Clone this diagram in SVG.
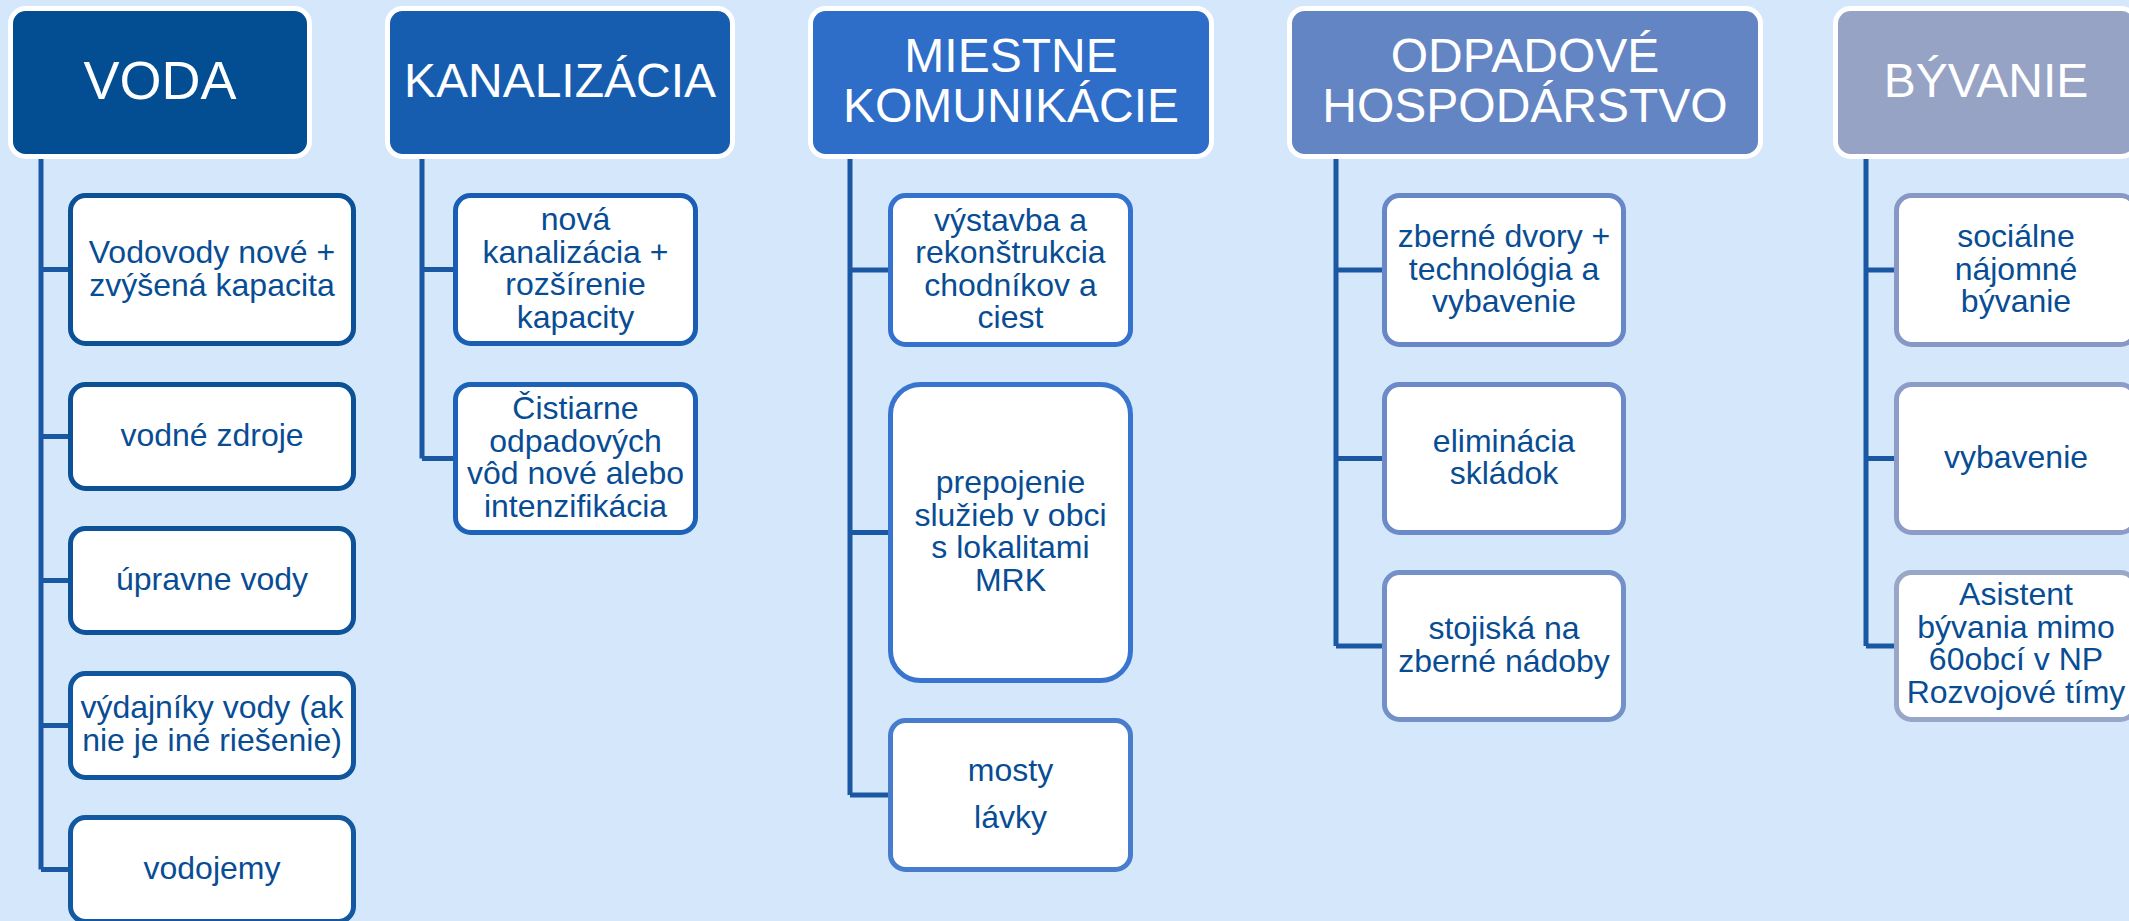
<svg xmlns="http://www.w3.org/2000/svg" width="2129" height="921" viewBox="0 0 2129 921">
<style>
.hd{stroke:#ffffff;stroke-width:5}
.ht{font-family:"Liberation Sans",Arial,sans-serif;fill:#ffffff;text-anchor:middle}
.bx{fill:#ffffff;stroke-width:5}
.tx{font-family:"Liberation Sans",Arial,sans-serif;font-size:32px;fill:#084D94;text-anchor:middle}
.cn{fill:none;stroke:#1A58A3;stroke-width:5}
</style>
<rect width="2129" height="921" fill="#D4E7FB"/>
<g id="connectors">
<path class="cn" d="M41 157V869.5M41 269.5H70M41 436.5H70M41 580.5H70M41 725.5H70M41 869.5H70"/>
<path class="cn" d="M422 157V458.5M422 269.5H455M422 458.5H455"/>
<path class="cn" d="M850 157V795M850 270H890M850 532.5H890M850 795H890"/>
<path class="cn" d="M1336 157V646M1336 270H1384M1336 458.5H1384M1336 646H1384"/>
<path class="cn" d="M1866 157V646M1866 270H1896M1866 458.5H1896M1866 646H1896"/>
</g>
<g id="voda">
<rect class="hd" x="10.5" y="8.5" width="299" height="148" rx="15" fill="#034E92"/>
<text class="ht" x="160" y="99" font-size="54">VODA</text>
</g>
<g id="voda-1">
<rect class="bx" x="70.5" y="195.5" width="283" height="148" rx="15" stroke="#0C5096"/>
<text class="tx" x="212" y="263">Vodovody nové +</text>
<text class="tx" x="212" y="296">zvýšená kapacita</text>
</g>
<g id="voda-2">
<rect class="bx" x="70.5" y="384.5" width="283" height="104" rx="15" stroke="#0C5096"/>
<text class="tx" x="212" y="446">vodné zdroje</text>
</g>
<g id="voda-3">
<rect class="bx" x="70.5" y="528.5" width="283" height="104" rx="15" stroke="#0E539A"/>
<text class="tx" x="212" y="590">úpravne vody</text>
</g>
<g id="voda-4">
<rect class="bx" x="70.5" y="673.5" width="283" height="104" rx="15" stroke="#10569E"/>
<text class="tx" x="212" y="718">výdajníky vody (ak</text>
<text class="tx" x="212" y="751">nie je iné riešenie)</text>
</g>
<g id="voda-5">
<rect class="bx" x="70.5" y="817.5" width="283" height="104" rx="15" stroke="#1259A2"/>
<text class="tx" x="212" y="879">vodojemy</text>
</g>
<g id="kanalizacia">
<rect class="hd" x="387.5" y="8.5" width="345" height="148" rx="15" fill="#165DB0"/>
<text class="ht" x="560" y="97" font-size="48">KANALIZÁCIA</text>
</g>
<g id="kanalizacia-1">
<rect class="bx" x="455.5" y="195.5" width="240" height="148" rx="15" stroke="#1A5EB4"/>
<text class="tx" x="575.5" y="230">nová</text>
<text class="tx" x="575.5" y="262.5">kanalizácia +</text>
<text class="tx" x="575.5" y="295">rozšírenie</text>
<text class="tx" x="575.5" y="327.5">kapacity</text>
</g>
<g id="kanalizacia-2">
<rect class="bx" x="455.5" y="384.5" width="240" height="148" rx="15" stroke="#1E62B8"/>
<text class="tx" x="575.5" y="419">Čistiarne</text>
<text class="tx" x="575.5" y="451.5">odpadových</text>
<text class="tx" x="575.5" y="484">vôd nové alebo</text>
<text class="tx" x="575.5" y="516.5">intenzifikácia</text>
</g>
<g id="komunikacie">
<rect class="hd" x="810.5" y="8.5" width="401" height="148" rx="15" fill="#2E6DC8"/>
<text class="ht" x="1011" y="72" font-size="48">MIESTNE</text>
<text class="ht" x="1011" y="122" font-size="48">KOMUNIKÁCIE</text>
</g>
<g id="komunikacie-1">
<rect class="bx" x="890.5" y="195.5" width="240" height="149" rx="15" stroke="#3472CE"/>
<text class="tx" x="1010.5" y="230.5">výstavba a</text>
<text class="tx" x="1010.5" y="263">rekonštrukcia</text>
<text class="tx" x="1010.5" y="295.5">chodníkov a</text>
<text class="tx" x="1010.5" y="328">ciest</text>
</g>
<g id="komunikacie-2">
<rect class="bx" x="890.5" y="384.5" width="240" height="296" rx="30" stroke="#3975CE"/>
<text class="tx" x="1010.5" y="493">prepojenie</text>
<text class="tx" x="1010.5" y="525.5">služieb v obci</text>
<text class="tx" x="1010.5" y="558">s lokalitami</text>
<text class="tx" x="1010.5" y="590.5">MRK</text>
</g>
<g id="komunikacie-3">
<rect class="bx" x="890.5" y="720.5" width="240" height="149" rx="15" stroke="#487DCD"/>
<text class="tx" x="1010.5" y="781">mosty</text>
<text class="tx" x="1010.5" y="828">lávky</text>
</g>
<g id="odpadove">
<rect class="hd" x="1289.5" y="8.5" width="471" height="148" rx="15" fill="#6385C3"/>
<text class="ht" x="1525" y="72" font-size="48">ODPADOVÉ</text>
<text class="ht" x="1525" y="122" font-size="48">HOSPODÁRSTVO</text>
</g>
<g id="odpadove-1">
<rect class="bx" x="1384.5" y="195.5" width="239" height="149" rx="15" stroke="#6787C6"/>
<text class="tx" x="1504" y="247">zberné dvory +</text>
<text class="tx" x="1504" y="279.5">technológia a</text>
<text class="tx" x="1504" y="312">vybavenie</text>
</g>
<g id="odpadove-2">
<rect class="bx" x="1384.5" y="384.5" width="239" height="148" rx="15" stroke="#6B8AC7"/>
<text class="tx" x="1504" y="451.5">eliminácia</text>
<text class="tx" x="1504" y="484">skládok</text>
</g>
<g id="odpadove-3">
<rect class="bx" x="1384.5" y="572.5" width="239" height="147" rx="15" stroke="#7390C8"/>
<text class="tx" x="1504" y="639">stojiská na</text>
<text class="tx" x="1504" y="672">zberné nádoby</text>
</g>
<g id="byvanie">
<rect class="hd" x="1835.5" y="8.5" width="301" height="148" rx="15" fill="#96A3C5"/>
<text class="ht" x="1986" y="97" font-size="48">BÝVANIE</text>
</g>
<g id="byvanie-1">
<rect class="bx" x="1896.5" y="195.5" width="239" height="149" rx="15" stroke="#8798C5"/>
<text class="tx" x="2016" y="247">sociálne</text>
<text class="tx" x="2016" y="279.5">nájomné</text>
<text class="tx" x="2016" y="312">bývanie</text>
</g>
<g id="byvanie-2">
<rect class="bx" x="1896.5" y="384.5" width="239" height="148" rx="15" stroke="#8C9CC6"/>
<text class="tx" x="2016" y="468">vybavenie</text>
</g>
<g id="byvanie-3">
<rect class="bx" x="1896.5" y="572.5" width="239" height="147" rx="15" stroke="#98A6C8"/>
<text class="tx" x="2016" y="605">Asistent</text>
<text class="tx" x="2016" y="637.5">bývania mimo</text>
<text class="tx" x="2016" y="670">60obcí v NP</text>
<text class="tx" x="2016" y="702.5">Rozvojové tímy</text>
</g>
</svg>
